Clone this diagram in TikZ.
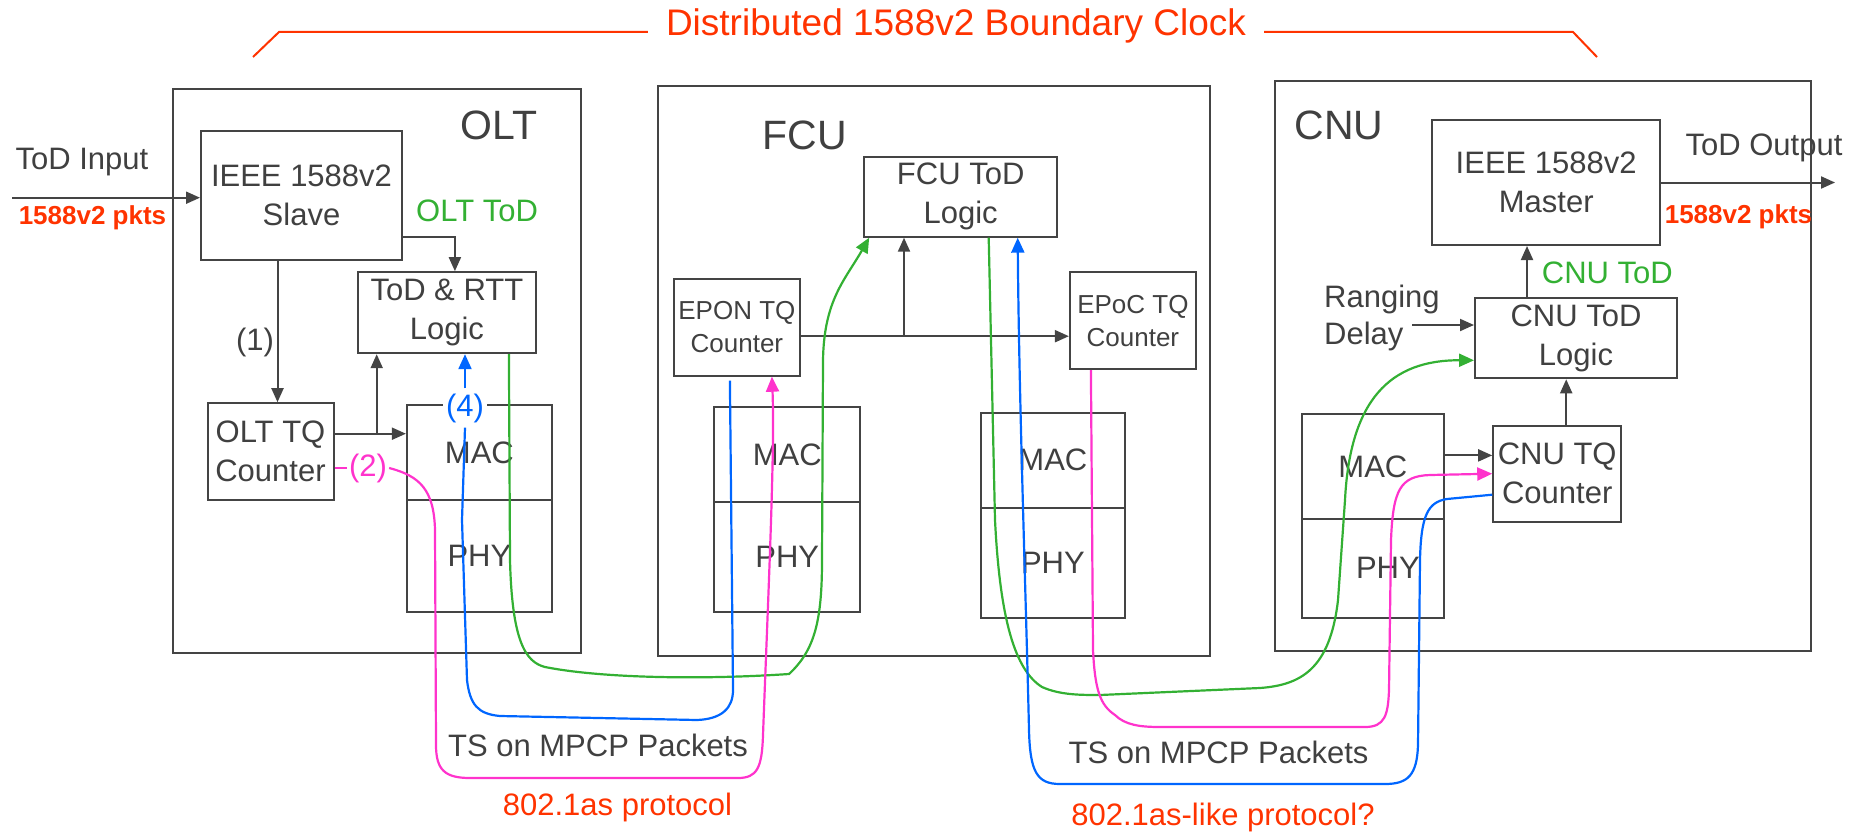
\documentclass[tikz,border=0pt]{standalone}
\usepackage{fontspec}
\setmainfont{Liberation Sans}
\usetikzlibrary{arrows.meta}

\definecolor{txtgray}{HTML}{404040}
\definecolor{linegray}{HTML}{444444}
\definecolor{tred}{HTML}{FF3300}
\definecolor{wgreen}{HTML}{33B033}
\definecolor{wblue}{HTML}{0066FF}
\definecolor{wpink}{HTML}{FF33CC}

\newcommand{\fmain}{\fontsize{31}{39}\selectfont}
\newcommand{\fsmall}{\fontsize{26}{33}\selectfont}
\newcommand{\fbig}{\fontsize{41}{48}\selectfont}
\newcommand{\ftitle}{\fontsize{37}{44}\selectfont}
\newcommand{\fpkts}{\bfseries\fontsize{26}{30}\selectfont}

\begin{document}
\begin{tikzpicture}[x=1pt,y=-1pt,
  box/.style={draw=linegray, line width=2pt, inner sep=0pt, align=center, text=txtgray, font=\fmain},
  smallbox/.style={box, font=\fsmall},
  lbl/.style={inner sep=0pt, text=txtgray, font=\fmain, align=center},
  arr/.style={draw=linegray, line width=2pt, -{Triangle[length=14pt,width=12pt]}},
  tip/.style={-{Triangle[length=15pt,width=13pt]}},
  greenwire/.style={draw=wgreen, line width=2.2pt},
  bluewire/.style={draw=wblue, line width=2.2pt},
  pinkwire/.style={draw=wpink, line width=2.2pt}]
  \useasboundingbox (0,0) rectangle (1862,832);

  % title
  \node[inner sep=0pt, text=tred, font=\ftitle] (title) at (956,26) {Distributed 1588v2 Boundary Clock};
  \draw[tred, line width=2pt] ([shift={(-18pt,-6pt)}]title.west) -- (279,32) -- (253,57);
  \draw[tred, line width=2pt] ([shift={(18pt,-6pt)}]title.east) -- (1573,32) -- (1597,57);

  % OLT
  \node[box, minimum width=408, minimum height=564] (olt) at (376.7,371.2) {};
  \node[lbl, font=\fbig] (oltname) at (499,125) {OLT};
  \node[box, minimum width=201, minimum height=129] (slave) at (301.5,195.5) {IEEE 1588v2\\Slave};
  \node[box, minimum width=178, minimum height=81] (todrtt) at (446.9,312.7) {ToD \& RTT\\Logic};
  \node[box, minimum width=126, minimum height=97] (olttq) at (270.5,451.7) {OLT TQ\\Counter};
  \node[box, minimum width=145, minimum height=95] (oltmac) at (479.4,452.5) {MAC};
  \node[box, minimum width=145, minimum height=112] (oltphy) at (479.4,555.8) {PHY};
  \node[lbl, anchor=west, text=wgreen] (oltod) at (416,211) {OLT ToD};
  \node[lbl] (lbl1) at (255,342) {(1)};

  % FCU
  \node[box, minimum width=552, minimum height=570] (fcu) at (933.9,370.7) {};
  \node[lbl, font=\fbig] (fcuname) at (805,135) {FCU};
  \node[box, minimum width=193, minimum height=80] (fcutod) at (960.7,196.7) {FCU ToD\hspace{20pt}\\Logic\hspace{20pt}};
  \node[smallbox, minimum width=126, minimum height=97] (epontq) at (736.9,327.2) {EPON TQ\\Counter};
  \node[smallbox, minimum width=126, minimum height=97] (epoctq) at (1132.9,320.7) {EPoC TQ\\Counter};
  \node[box, minimum width=146, minimum height=95] (fcumaca) at (787.2,454.7) {MAC};
  \node[box, minimum width=146, minimum height=110] (fcuphya) at (787.2,556.9) {PHY};
  \node[box, minimum width=144, minimum height=95] (fcumacb) at (1052.9,460) {MAC};
  \node[box, minimum width=144, minimum height=110] (fcuphyb) at (1052.9,562.5) {PHY};

  % CNU
  \node[box, minimum width=536, minimum height=570] (cnu) at (1543,365.9) {};
  \node[lbl, font=\fbig] (cnuname) at (1339,125) {CNU};
  \node[box, minimum width=228, minimum height=125] (master) at (1546.2,182.5) {IEEE 1588v2\\Master};
  \node[box, minimum width=202, minimum height=80] (cnutod) at (1576,338.3) {CNU ToD\\Logic};
  \node[box, minimum width=128, minimum height=96] (cnutq) at (1557.2,473.7) {CNU TQ\\Counter};
  \node[box, minimum width=142, minimum height=105] (cnumac) at (1372.9,466.4) {MAC};
  \node[box, minimum width=142, minimum height=99] (cnuphy) at (1372.9,568.1) {\hspace{30pt}PHY};
  \node[lbl, anchor=west, text=wgreen] (cnutodl) at (1541.7,272.7) {CNU ToD};
  \node[lbl, anchor=west, align=left, font=\fontsize{31}{37}\selectfont] (ranging) at (1324,318.3) {Ranging\\Delay};

  % inputs and outputs
  \node[lbl] (todinl) at (82,162) {ToD Input};
  \node[lbl, text=tred, font=\fpkts] (pktsin) at (92.5,218) {1588v2 pkts};
  \node[lbl] (todoutl) at (1764,148) {ToD Output};
  \node[lbl, text=tred, font=\fpkts] (pktsout) at (1738.5,217) {1588v2 pkts};
  \coordinate (todin) at (12,197.7);
  \coordinate (todout) at (1835,182.5);
  \coordinate (rngfrom) at (1412,325);

  % bottom texts
  \node[lbl] (tsa) at (598,745) {TS on MPCP Packets};
  \node[lbl] (tsb) at (1218.5,752) {TS on MPCP Packets};
  \node[lbl, text=tred] (prota) at (617.5,807.5) {802.1as protocol};
  \node[lbl, text=tred] (protb) at (1223,817) {802.1as-like protocol?};

  % gray arrows
  \draw[arr] (todin) -- (todin -| slave.west);
  \draw[arr] ([yshift=-41pt]slave.east) -| ([xshift=8pt]todrtt.north);
  \draw[arr] ([xshift=-24pt]slave.south) -- ([xshift=-24pt]slave.south |- olttq.north);
  \draw[arr] ([yshift=18pt]olttq.east) -- ([yshift=18pt]olttq.east -| oltmac.west);
  \coordinate (jolt) at (376.7,433.7);
  \draw[arr] (jolt) -- (jolt |- todrtt.south);
  \draw[arr] ([yshift=-9pt]epontq.east) -- ([yshift=-9pt]epontq.east -| epoctq.west);
  \coordinate (jfcu) at (904,336.2);
  \draw[arr] (jfcu) -- (jfcu |- fcutod.south);
  \draw[arr] (master.east) -- (todout);
  \draw[arr] ([xshift=-49pt]cnutod.north) -- ([xshift=-49pt]cnutod.north |- master.south);
  \draw[arr] ([xshift=9pt]cnutq.north) -- ([xshift=9pt]cnutq.north |- cnutod.south);
  \draw[arr] ([yshift=11pt]cnumac.east) -- ([yshift=11pt]cnumac.east -| cnutq.west);
  \draw[arr] (rngfrom) -- (rngfrom -| cnutod.west);

  % (4) and (2)
  \node[lbl, text=wblue, fill=white, inner xsep=3pt, inner ysep=5pt] (n4) at (465,408) {(4)};
  \node[lbl, text=wpink, fill=white, inner sep=2pt] (n2) at (368,468) {(2)};

  % OLT -- FCU
  \draw[greenwire, tip] ([xshift=62pt]todrtt.south) -- (510,560)
    .. controls (512,640) and (525,662) .. (545,667)
    .. controls (600,678) and (700,680) .. (789,674)
    .. controls (815,650) and (822,620) .. (822,560) -- (823,360)
    .. controls (824,300) and (845,280) .. ([xshift=6pt]fcutod.south west);
  \draw[bluewire] ([xshift=-7pt,yshift=-4pt]epontq.south) -- (733,690)
    .. controls (733,708) and (722,719) .. (697,720) -- (500,716)
    .. controls (478,714) and (470,705) .. (467,680) -- (462,520) -- (n4.south);
  \draw[bluewire, tip] (n4.north) -- (n4.north |- todrtt.south);
  \draw[pinkwire] (olttq.east |- n2) -- (n2.west);
  \draw[pinkwire, tip] (n2.east) .. controls (420,476) and (434,490) .. (435,530) -- (436,745)
    .. controls (436,770) and (445,778) .. (470,778) -- (738,778)
    .. controls (757,778) and (762,768) .. (763,735)
    .. controls (768,600) and (775,450) .. ([xshift=35pt]epontq.south);

  % FCU -- CNU
  \draw[greenwire, tip] ([xshift=28pt]fcutod.south) -- (995,520)
    .. controls (1000,620) and (1015,670) .. (1042,687)
    .. controls (1060,695) and (1080,695) .. (1100,695) -- (1260,688)
    .. controls (1300,685) and (1330,670) .. (1338,600) -- (1345,500)
    .. controls (1350,400) and (1390,360) .. ([yshift=-22pt]cnutod.west);
  \draw[bluewire, tip] ([yshift=-21pt]cnutq.west) -- (1447,499)
    .. controls (1428,502) and (1421,515) .. (1420,560) -- (1418,745)
    .. controls (1417,775) and (1408,784) .. (1385,784) -- (1060,784)
    .. controls (1037,784) and (1030,772) .. (1029,730)
    .. controls (1026,600) and (1019,400) .. ([xshift=57pt]fcutod.south);
  \draw[pinkwire, tip] ([xshift=-42pt]epoctq.south) -- (1093,650)
    .. controls (1095,690) and (1100,705) .. (1115,715)
    .. controls (1125,725) and (1140,727) .. (1160,727) -- (1365,727)
    .. controls (1385,727) and (1388,715) .. (1389,690) -- (1391,540)
    .. controls (1393,490) and (1400,476) .. (1430,475) -- (cnutq.west);
\end{tikzpicture}
\end{document}
